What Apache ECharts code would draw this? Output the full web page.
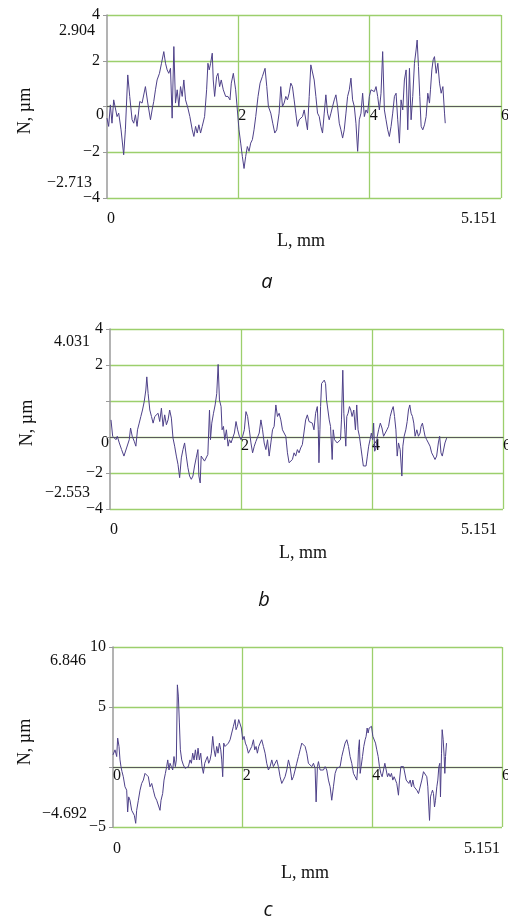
<!DOCTYPE html>
<html><head><meta charset="utf-8">
<script src="https://cdn.jsdelivr.net/npm/echarts@6/dist/echarts.min.js"></script>
<style>html,body{margin:0;padding:0;background:#fff;overflow:hidden}#c{width:508px;height:919px}</style>
</head><body><div id="c"></div>
<script>
// ---- Panel a ----
const aX = [0.000,0.025,0.051,0.076,0.102,0.127,0.153,0.178,0.214,0.254,0.280,0.316,0.346,0.382,0.407,0.433,0.458,0.499,0.534,0.585,0.621,0.662,0.687,0.712,0.738,0.763,0.799,0.830,0.865,0.891,0.916,0.941,0.967,0.992,1.018,1.043,1.069,1.094,1.120,1.145,1.170,1.196,1.232,1.262,1.298,1.323,1.349,1.374,1.399,1.425,1.450,1.486,1.517,1.537,1.557,1.578,1.603,1.618,1.639,1.669,1.690,1.715,1.740,1.771,1.807,1.842,1.873,1.893,1.924,1.959,1.985,2.010,2.036,2.061,2.087,2.112,2.137,2.163,2.188,2.214,2.239,2.265,2.300,2.331,2.366,2.407,2.433,2.458,2.494,2.524,2.555,2.585,2.621,2.646,2.672,2.697,2.723,2.748,2.774,2.799,2.824,2.850,2.875,2.901,2.926,2.952,2.977,3.003,3.028,3.053,3.079,3.104,3.130,3.155,3.181,3.206,3.232,3.257,3.282,3.308,3.333,3.359,3.384,3.410,3.435,3.461,3.486,3.511,3.537,3.562,3.588,3.613,3.639,3.664,3.690,3.715,3.740,3.766,3.791,3.817,3.842,3.868,3.893,3.919,3.944,3.969,3.995,4.020,4.046,4.071,4.097,4.122,4.148,4.173,4.198,4.224,4.249,4.275,4.300,4.326,4.351,4.377,4.402,4.427,4.453,4.478,4.504,4.529,4.555,4.580,4.606,4.631,4.656,4.682,4.707,4.723,4.743,4.763,4.784,4.809,4.835,4.860,4.885,4.911,4.926,4.947,4.967,4.987,5.013,5.038,5.064,5.089,5.115,5.140,5.151];
const aY = [-0.51,-0.87,0.07,-0.73,0.29,0.22,-0.44,-0.29,-1.02,-2.11,-1.02,1.38,0.44,-0.58,-0.73,-0.36,-0.87,0.22,0.15,0.87,0.15,-0.58,-0.15,0.22,0.73,1.16,1.45,1.89,2.40,1.89,1.60,1.45,1.67,-0.51,2.62,0.15,0.73,0.00,0.87,0.44,1.16,0.29,-0.07,-0.44,-1.02,-1.31,-0.87,-1.16,-0.80,-1.16,-0.87,-0.44,0.73,1.89,1.60,1.89,2.33,1.16,0.44,1.31,1.45,0.87,1.16,0.73,0.44,0.44,0.29,1.02,1.45,0.73,-0.15,-1.02,-1.60,-2.18,-2.71,-2.18,-1.75,-1.96,-1.60,-1.45,-1.02,-0.44,0.44,1.02,1.31,1.67,0.87,0.00,-0.29,-0.73,-1.16,-1.02,-0.29,0.87,0.00,0.15,0.44,0.29,0.58,1.02,0.87,0.29,-0.29,-0.87,-0.58,-0.51,-0.44,-0.15,-0.07,-1.02,0.44,1.82,1.75,1.16,0.44,-0.29,-0.44,-0.87,-1.16,-0.29,0.51,-0.29,-0.58,-0.29,0.00,0.29,0.51,0.00,-0.73,-1.02,-1.38,-1.02,-0.29,0.44,0.73,1.24,0.29,0.00,-0.73,-1.96,-0.58,-0.29,0.58,-0.44,-0.15,-0.29,0.44,0.73,0.80,0.65,0.87,0.44,-0.15,0.58,2.40,-0.15,-0.58,-1.02,-1.31,-0.87,-0.29,0.44,0.58,-0.58,-1.60,0.29,-0.15,1.16,1.60,-1.02,1.67,-0.58,0.44,1.89,2.47,2.904,1.75,0.44,-0.87,-1.02,-0.80,-0.44,0.58,0.15,0.73,1.60,2.04,2.18,1.45,1.89,1.02,0.58,0.87,-0.29,-0.73];

// ---- Panel b (plotted on the linear scale the gridlines follow) ----
const bX = [0.015,0.041,0.061,0.091,0.111,0.142,0.177,0.213,0.253,0.294,0.314,0.339,0.370,0.395,0.420,0.446,0.471,0.496,0.522,0.547,0.562,0.582,0.608,0.633,0.658,0.684,0.709,0.734,0.759,0.785,0.810,0.835,0.861,0.886,0.911,0.937,0.962,0.987,1.013,1.038,1.063,1.089,1.114,1.139,1.165,1.190,1.215,1.241,1.266,1.291,1.316,1.342,1.357,1.377,1.392,1.418,1.443,1.468,1.494,1.519,1.534,1.554,1.580,1.605,1.630,1.651,1.671,1.696,1.711,1.732,1.752,1.777,1.803,1.823,1.848,1.873,1.899,1.924,1.949,1.975,2.000,2.025,2.051,2.076,2.101,2.127,2.152,2.177,2.203,2.228,2.253,2.278,2.304,2.329,2.354,2.380,2.405,2.430,2.456,2.481,2.506,2.532,2.557,2.582,2.608,2.633,2.658,2.684,2.709,2.734,2.759,2.785,2.810,2.835,2.861,2.886,2.911,2.937,2.962,2.987,3.013,3.038,3.063,3.089,3.114,3.139,3.165,3.180,3.190,3.205,3.215,3.230,3.251,3.271,3.291,3.306,3.327,3.347,3.367,3.392,3.408,3.428,3.448,3.468,3.494,3.519,3.534,3.554,3.570,3.585,3.600,3.615,3.635,3.656,3.676,3.696,3.722,3.747,3.767,3.787,3.808,3.828,3.848,3.868,3.889,3.909,3.929,3.949,3.970,3.990,4.010,4.025,4.041,4.061,4.081,4.101,4.127,4.152,4.177,4.203,4.228,4.253,4.278,4.304,4.324,4.344,4.365,4.385,4.405,4.430,4.456,4.471,4.491,4.516,4.537,4.557,4.577,4.597,4.618,4.638,4.658,4.684,4.709,4.734,4.749,4.770,4.790,4.810,4.835,4.861,4.886,4.911,4.937,4.962,4.987,5.013,5.033,5.053,5.073,5.094,5.114,5.140];
const bY = [0.95,0.04,-0.06,-0.15,0.04,-0.33,-0.70,-1.06,-0.61,-0.15,0.50,0.04,-0.24,-0.51,0.40,0.77,1.14,1.50,1.96,2.61,3.34,2.42,1.50,1.14,0.77,1.14,1.05,1.32,0.86,1.60,0.59,1.23,0.68,0.95,1.50,1.05,-0.06,-0.51,-1.06,-1.52,-2.26,-1.16,-0.70,-0.33,-1.06,-1.71,-2.17,-2.35,-2.17,-1.61,-1.16,-0.70,-2.17,-2.553,-1.06,-1.16,-1.34,-1.43,-0.97,1.50,-0.15,0.77,1.32,1.78,2.42,4.031,2.06,1.69,0.40,0.59,-0.15,0.40,-0.51,-0.15,-0.33,-0.06,0.22,0.86,0.40,0.04,-0.15,0.04,0.40,1.41,1.14,0.40,-0.33,-0.88,-0.51,-0.24,-0.33,0.22,0.95,0.40,-0.33,-0.70,-0.15,-1.06,-0.33,0.40,0.59,1.78,1.14,1.32,0.95,0.40,0.40,0.04,-0.88,-1.43,-1.43,-1.25,-0.88,-1.06,-0.70,-0.88,-0.61,-0.42,-0.51,0.95,1.23,0.86,0.95,0.77,0.40,1.32,1.69,0.40,-1.43,0.40,1.69,2.97,3.06,3.16,2.97,2.06,1.50,0.95,0.59,-1.25,0.40,-0.15,-0.24,-0.33,-0.33,-0.15,0.95,3.71,1.32,0.40,-0.51,1.14,1.32,1.69,1.50,1.14,1.50,0.40,1.78,0.40,0.04,-0.51,-1.06,-1.61,-1.71,-1.61,-1.06,-0.51,-0.15,0.22,-0.15,0.77,-0.79,-0.61,0.04,0.40,0.77,0.50,0.04,0.04,0.40,0.59,1.14,1.50,1.69,1.14,0.40,-1.06,-0.33,-0.70,-2.17,-0.51,0.04,0.40,0.86,1.50,1.78,1.32,1.14,0.77,0.04,0.40,0.04,0.22,0.59,0.77,0.40,0.04,-0.15,-0.33,-0.51,-0.88,-1.06,-1.25,-1.06,-0.33,0.04,-0.88,-1.06,-1.16,-0.33,-0.06];

// ---- Panel c ----
const cX = [0.000,0.031,0.057,0.072,0.093,0.108,0.123,0.139,0.159,0.185,0.211,0.226,0.242,0.262,0.288,0.314,0.329,0.350,0.365,0.391,0.417,0.442,0.468,0.494,0.520,0.545,0.571,0.597,0.622,0.648,0.674,0.700,0.725,0.741,0.766,0.787,0.808,0.828,0.844,0.864,0.880,0.900,0.921,0.941,0.962,0.977,0.993,1.008,1.024,1.039,1.060,1.085,1.111,1.137,1.163,1.188,1.209,1.229,1.250,1.271,1.291,1.312,1.332,1.353,1.373,1.394,1.415,1.435,1.456,1.476,1.497,1.517,1.538,1.559,1.579,1.600,1.620,1.641,1.662,1.677,1.692,1.708,1.728,1.754,1.780,1.806,1.831,1.857,1.883,1.898,1.919,1.939,1.960,1.980,2.001,2.022,2.042,2.063,2.088,2.114,2.140,2.166,2.186,2.207,2.227,2.248,2.269,2.294,2.320,2.346,2.371,2.397,2.423,2.449,2.474,2.500,2.526,2.551,2.577,2.603,2.629,2.654,2.680,2.706,2.731,2.759,2.783,2.809,2.834,2.860,2.886,2.912,2.937,2.963,2.989,3.014,3.040,3.066,3.092,3.117,3.133,3.153,3.169,3.194,3.220,3.246,3.272,3.297,3.323,3.349,3.374,3.400,3.426,3.452,3.477,3.503,3.529,3.554,3.580,3.606,3.632,3.657,3.683,3.709,3.735,3.760,3.776,3.786,3.801,3.812,3.827,3.848,3.868,3.889,3.904,3.920,3.935,3.951,3.966,3.987,4.008,4.028,4.049,4.069,4.090,4.110,4.131,4.151,4.172,4.193,4.213,4.234,4.254,4.275,4.295,4.316,4.336,4.357,4.377,4.403,4.419,4.440,4.460,4.481,4.506,4.522,4.543,4.563,4.584,4.604,4.625,4.645,4.666,4.686,4.712,4.738,4.763,4.789,4.815,4.840,4.856,4.871,4.882,4.897,4.912,4.928,4.943,4.959,4.974,4.995,5.010,5.026,5.041,5.051,5.067,5.077,5.093,5.108,5.118,5.129,5.144];
const cY = [1.01,1.43,0.87,2.41,1.71,0.59,0.03,-0.39,-0.81,-1.65,-1.93,-3.75,-2.49,-2.77,-3.61,-3.47,-4.03,-4.692,-3.61,-2.77,-1.93,-1.37,-1.09,-0.53,-0.39,-0.81,-1.65,-1.37,-1.93,-2.49,-2.77,-2.63,-3.61,-2.77,-2.21,-1.09,-0.53,0.03,0.59,-0.25,0.31,0.03,-0.25,0.87,0.03,0.59,6.846,5.91,3.67,1.43,0.59,0.17,-0.11,0.03,0.03,0.59,0.31,1.15,0.59,1.43,0.59,1.57,0.59,1.15,0.03,-0.53,0.31,0.59,0.87,0.31,0.59,1.15,2.55,1.43,0.87,1.71,1.15,1.99,1.43,0.59,-0.81,1.99,1.71,1.71,1.99,2.27,2.83,3.39,3.95,3.11,3.39,3.95,3.95,3.25,2.27,2.55,1.99,1.71,1.15,1.15,1.71,2.27,1.43,1.71,1.15,1.71,1.99,2.27,1.71,1.15,0.31,-0.25,0.03,0.59,0.03,0.31,0.59,0.03,-0.81,-1.37,-1.09,-0.81,-0.25,0.59,0.03,-1.09,-0.81,-0.25,0.31,0.87,1.43,1.99,2.13,1.71,1.15,0.31,0.17,0.03,0.31,-0.11,-2.91,0.03,0.45,-0.25,-0.11,-0.25,0.03,-0.25,-1.09,-1.65,-2.77,-1.65,-0.53,-0.11,0.03,0.03,0.87,1.43,1.99,2.27,1.71,0.87,0.31,-0.53,-0.81,-1.09,0.03,1.43,2.27,-0.53,0.03,0.87,1.71,2.27,2.55,3.25,2.83,3.25,3.11,3.39,2.55,2.69,1.99,1.43,0.87,0.03,-0.53,-0.81,-0.25,0.31,0.45,-0.81,-0.53,-0.81,-0.53,-1.09,-0.81,-1.09,-1.37,-2.35,-1.09,0.03,0.17,0.03,0.03,-1.09,-1.09,-1.37,-1.09,-1.65,-1.09,-1.65,-1.65,-1.93,-2.21,-2.21,-1.09,-0.39,-0.53,-0.81,-1.65,-3.33,-4.45,-2.49,-2.21,-1.93,-2.21,-3.33,-2.77,-1.65,-1.09,0.03,0.31,-2.49,1.15,3.11,2.27,0.87,-0.53,0.87,1.99];

// ---- tick labels ----
const xTicks = [0, 2, 4, 6];
const aYTicks = [-4, -2, 0, 2, 4];
const bYTicks = [-4, -2, 0, 2, 4, 6];
const bYTickLabels = ['\u22124', '\u22122', '0', '', '2', '4'];
const cYTicks = [-5, 0, 5, 10];

// annotation texts
const extremes = { a: ['2.904', '\u22122.713'], b: ['4.031', '\u22122.553'], c: ['6.846', '\u22124.692'] };
const lengthText = '5.151';
const xName = 'L, mm';
const yName = 'N, \u00b5m';
const panelNames = ['a', 'b', 'c'];

function zip(xs, ys) { return xs.map((x, i) => [x, ys[i]]); }
const fmt = v => (v < 0 ? '\u2212' + Math.abs(v) : String(v));

const SERIF = "'Liberation Serif','Times New Roman',serif";
const green = '#9ccf6c';
const lineColor = '#4e4189';

const grids = [
  { left: 107, top: 15, width: 394, height: 183, yMin: -4, yMax: 4 },
  { left: 110, top: 329, width: 393, height: 180, yMin: -4, yMax: 6 },
  { left: 113, top: 647, width: 389, height: 180, yMin: -5, yMax: 10 }
];

function xAxis(i, showZero) {
  const g = grids[i];
  // put the axis (line + labels) on the zero level of the y scale
  const off = -g.height * (0 - g.yMin) / (g.yMax - g.yMin);
  return {
    type: 'value', gridIndex: i, min: 0, max: 6, interval: 2, position: 'bottom', offset: off,
    axisLine: { onZero: false, lineStyle: { color: '#5a5a5a', width: 1 } },
    axisTick: { show: false },
    axisLabel: {
      margin: 1, color: '#111', fontFamily: SERIF, fontSize: 16, padding: [0, 0, 0, 8],
      showMinLabel: true, showMaxLabel: true, hideOverlap: false,
      formatter: v => (v === 0 && !showZero) ? '' : (xTicks.includes(v) ? String(v) : '')
    },
    splitLine: { show: true, showMinLine: false, showMaxLine: true, lineStyle: { color: green, width: 1.3 } }
  };
}
function yAxis(i, interval, formatter) {
  const g = grids[i];
  return {
    type: 'value', gridIndex: i, min: g.yMin, max: g.yMax, interval,
    axisLine: { show: true, onZero: false, lineStyle: { color: '#9a9a9a', width: 1.5 } },
    axisTick: { show: true, length: 4, lineStyle: { color: '#9a9a9a' } },
    axisLabel: { margin: 7, color: '#111', fontFamily: SERIF, fontSize: 16, formatter, showMinLabel: true, showMaxLabel: true },
    splitLine: { show: true, showMinLine: true, showMaxLine: true, lineStyle: { color: green, width: 1.3 } }
  };
}

const option = {
  animation: false,
  backgroundColor: '#fff',
  grid: grids.map(g => ({ left: g.left, top: g.top, width: g.width, height: g.height, containLabel: false, outerBoundsMode: 'none' })),
  xAxis: [xAxis(0, false), xAxis(1, false), xAxis(2, true)],
  yAxis: [
    yAxis(0, 2, v => v === 0 ? '' : (aYTicks.includes(v) ? fmt(v) : '')),
    yAxis(1, 2, v => { const k = bYTicks.indexOf(v); return k < 0 || v === 0 ? '' : bYTickLabels[k]; }),
    yAxis(2, 5, v => v === 0 ? '' : (cYTicks.includes(v) ? fmt(v) : ''))
  ],
  series: [
    { type: 'line', xAxisIndex: 0, yAxisIndex: 0, data: zip(aX, aY), showSymbol: false, lineStyle: { color: lineColor, width: 1 }, z: 5 },
    { type: 'line', xAxisIndex: 1, yAxisIndex: 1, data: zip(bX, bY), showSymbol: false, lineStyle: { color: lineColor, width: 1 }, z: 5 },
    { type: 'line', xAxisIndex: 2, yAxisIndex: 2, data: zip(cX, cY), showSymbol: false, lineStyle: { color: lineColor, width: 1 }, z: 5 }
  ],
  graphic: []
};

function txt(text, x, y, align, size, extra) {
  return Object.assign({
    type: 'text', x, y,
    style: { text, font: (size || 16) + 'px ' + SERIF, fill: '#111', align: align || 'center', verticalAlign: 'middle' }
  }, extra || {});
}
const G = option.graphic;
// panel a
G.push(txt(extremes.a[0], 95, 31, 'right'));
G.push(txt(extremes.a[1], 92, 183, 'right'));
G.push(txt('0', 100, 115, 'center'));
G.push(txt('0', 111, 219, 'center'));
G.push(txt(lengthText, 497, 219, 'right'));
G.push(txt(xName, 301, 241, 'center', 18));
G.push(txt(yName, 25, 111, 'center', 18, { rotation: Math.PI / 2 }));
// panel b
G.push(txt(extremes.b[0], 90, 342, 'right'));
G.push(txt(extremes.b[1], 90, 493, 'right'));
G.push(txt('0', 105, 443, 'center'));
G.push(txt('0', 114, 530, 'center'));
G.push(txt(lengthText, 497, 530, 'right'));
G.push(txt(xName, 303, 553, 'center', 18));
G.push(txt(yName, 27, 423, 'center', 18, { rotation: Math.PI / 2 }));
// panel c
G.push(txt(extremes.c[0], 86, 661, 'right'));
G.push(txt(extremes.c[1], 87, 814, 'right'));
G.push(txt('0', 117, 849, 'center'));
G.push(txt(lengthText, 500, 849, 'right'));
G.push(txt(xName, 305, 873, 'center', 18));
G.push(txt(yName, 25, 742, 'center', 18, { rotation: Math.PI / 2 }));
// panel letters
const letterPos = [[267, 282], [264, 600], [268, 910]];
panelNames.forEach((n, i) => {
  G.push({ type: 'text', x: letterPos[i][0], y: letterPos[i][1],
    style: { text: n, font: 'italic 20px "Open Sans", sans-serif', fill: '#111', align: 'center', verticalAlign: 'middle' } });
});

const chart = echarts.init(document.getElementById('c'), null, { renderer: 'canvas' });
chart.setOption(option);
</script>
</body></html>
